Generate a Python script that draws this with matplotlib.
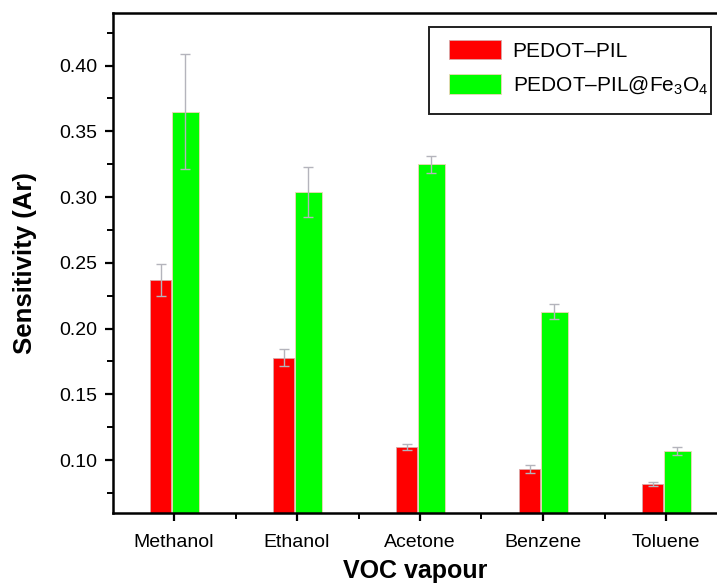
import matplotlib

matplotlib.use("Agg")
import matplotlib.pyplot as plt
import numpy as np
from matplotlib.patches import Rectangle
from matplotlib.ticker import FixedLocator, FormatStrFormatter, MultipleLocator

plt.rcParams["font.family"] = ["Liberation Sans", "DejaVu Sans"]
plt.rcParams["mathtext.fontset"] = "custom"
plt.rcParams["mathtext.rm"] = "Liberation Sans"

# data
vocs = ["Methanol", "Ethanol", "Acetone", "Benzene", "Toluene"]
pil = [0.237, 0.178, 0.110, 0.093, 0.082]
pil_err = [0.0125, 0.0065, 0.0025, 0.003, 0.0015]
fe3o4 = [0.365, 0.304, 0.325, 0.213, 0.107]
fe3o4_err = [0.044, 0.019, 0.0065, 0.006, 0.003]

W, H = 717, 586
fig = plt.figure(figsize=(W / 100, H / 100), dpi=100)
left, right, top, bottom = 112.5, 717, 13, 512.7
ax = fig.add_axes([left / W, 1 - bottom / H, (right - left) / W, (bottom - top) / H])

x = np.arange(len(vocs))
err_kw = dict(ecolor="#b4b4bc", elinewidth=1.0, capsize=3.3, capthick=1.0)
ax.bar(x - 0.108, pil, width=0.175, yerr=pil_err, color="#ff0000",
       edgecolor="#d8a8a8", linewidth=0.6, error_kw=err_kw, label="PEDOT\u2013PIL")
ax.bar(x + 0.093, fe3o4, width=0.222, yerr=fe3o4_err, color="#00ff00",
       edgecolor="#f0d4b8", linewidth=0.6, error_kw=err_kw,
       label="PEDOT\u2013PIL@Fe$_3$O$_4$")

ax.set_xlim(-0.5, (right - 174) / 123.0)
ax.set_ylim(0.06, 0.44)
ax.set_xticks(x)
ax.set_xticklabels(vocs)
ax.xaxis.set_minor_locator(FixedLocator(x[:-1] + 0.5))
ax.yaxis.set_major_locator(MultipleLocator(0.05))
ax.yaxis.set_minor_locator(MultipleLocator(0.025))
ax.yaxis.set_major_formatter(FormatStrFormatter("%.2f"))

for side in ["left", "bottom", "top"]:
    ax.spines[side].set_linewidth(1.8)
ax.spines["right"].set_visible(False)
ax.tick_params(which="major", direction="out", length=6, width=1.6, labelsize=14)
ax.tick_params(axis="x", which="major", pad=9)
ax.tick_params(axis="y", which="major", pad=5)
ax.tick_params(which="minor", direction="out", length=4, width=1.4)
ax.tick_params(axis="x", which="both", top=False)

ax.set_xlabel("VOC vapour", fontsize=18, fontweight="bold", labelpad=6)
ax.set_ylabel("Sensitivity (Ar)", fontsize=18.5, fontweight="bold", labelpad=16)

# legend entries without frame, box drawn separately to match the reference padding
leg = ax.legend(loc="upper left", bbox_to_anchor=(449 / W, 1 - 40 / H),
                bbox_transform=fig.transFigure, fontsize=15, frameon=False,
                handlelength=2.5, handleheight=1.04, labelspacing=0.66,
                borderpad=0, handletextpad=0.55, borderaxespad=0)
box = Rectangle((429 / W, 1 - 114.3 / H), (711.3 - 429) / W, (114.3 - 27.3) / H,
                transform=fig.transFigure, fill=False, edgecolor="#202020",
                linewidth=1.4, clip_on=False)
fig.add_artist(box)

fig.savefig("out.png", dpi=100)
